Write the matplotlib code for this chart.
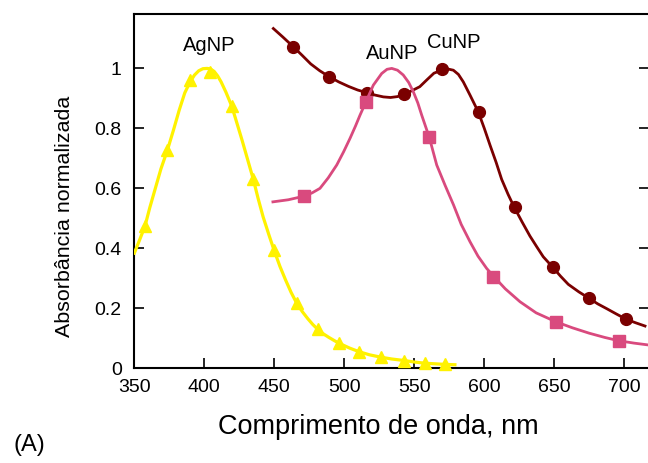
import matplotlib
matplotlib.use("Agg")
import matplotlib.pyplot as plt

plt.rcParams['font.family'] = ['Liberation Sans', 'DejaVu Sans']

# AgNP (yellow, triangles)
ag_marker_x = [357.6, 373.6, 389.8, 404.1, 419.6, 435.0, 449.8, 466.0, 481.0, 496.5, 510.8, 526.2, 542.8, 557.5, 572.0]
ag_marker_y = [0.474, 0.727, 0.961, 0.989, 0.874, 0.630, 0.394, 0.217, 0.130, 0.083, 0.055, 0.037, 0.026, 0.017, 0.013]
ag_line_x = [350.0, 353.5, 357.6, 361.0, 365.0, 369.0, 373.6, 378.0, 382.0, 386.0, 389.8, 393.0, 396.0, 399.0, 402.0,
             404.5, 407.0, 409.5, 412.0, 415.5, 419.6, 423.0, 427.0, 431.0, 435.0, 438.5, 442.0, 446.0, 449.8,
             454.0, 458.0, 462.0, 466.0, 470.0, 474.0, 477.5, 481.0, 485.0, 489.0, 493.0, 496.5, 504.0, 510.8,
             518.0, 526.2, 534.0, 542.8, 550.0, 557.5, 565.0, 572.0, 579.0]
ag_line_y = [0.384, 0.425, 0.474, 0.535, 0.600, 0.665, 0.727, 0.795, 0.860, 0.918, 0.955, 0.978, 0.992, 0.999, 1.000,
             0.998, 0.990, 0.975, 0.955, 0.920, 0.874, 0.822, 0.760, 0.695, 0.630, 0.565, 0.505, 0.447, 0.394,
             0.340, 0.295, 0.253, 0.217, 0.189, 0.165, 0.146, 0.130, 0.115, 0.103, 0.092, 0.083, 0.067, 0.055,
             0.045, 0.037, 0.031, 0.026, 0.021, 0.017, 0.015, 0.013, 0.012]

# AuNP (pink, squares)
au_marker_x = [471.3, 515.5, 560.7, 606.4, 651.2, 696.0]
au_marker_y = [0.574, 0.889, 0.770, 0.305, 0.155, 0.092]
au_line_x = [449.0, 460.0, 471.3, 477.0, 482.6, 488.5, 494.6, 499.5, 504.1, 508.0, 511.2, 515.5, 520.7, 526.7, 530.5,
             533.9, 538.0, 542.1, 546.0, 549.3, 552.5, 555.3, 560.7, 566.0, 572.0, 578.0, 583.5, 589.8, 595.5,
             601.7, 607.0, 615.0, 625.5, 637.0, 651.2, 663.0, 675.0, 686.0, 696.0, 707.0, 717.0]
au_line_y = [0.555, 0.562, 0.574, 0.585, 0.600, 0.635, 0.678, 0.722, 0.767, 0.808, 0.844, 0.889, 0.944, 0.983, 0.997,
             1.000, 0.994, 0.978, 0.953, 0.922, 0.885, 0.844, 0.770, 0.678, 0.610, 0.545, 0.480, 0.422, 0.374,
             0.333, 0.305, 0.265, 0.222, 0.185, 0.155, 0.135, 0.117, 0.103, 0.092, 0.084, 0.078]

# CuNP (dark red, circles)
cu_marker_x = [463.6, 489.3, 516.0, 542.6, 569.6, 595.9, 622.0, 648.8, 675.0, 701.2]
cu_marker_y = [1.072, 0.972, 0.919, 0.914, 0.997, 0.855, 0.537, 0.337, 0.233, 0.164]
cu_line_x = [449.3, 456.0, 463.6, 470.0, 476.0, 482.5, 489.3, 496.0, 503.0, 509.5, 516.0, 522.0, 527.9, 533.0, 538.0,
             542.6, 548.0, 553.9, 559.0, 564.0, 569.6, 574.0, 577.9, 581.5, 585.0, 589.8, 595.7, 600.0, 604.1,
             608.5, 612.4, 617.0, 621.4, 627.0, 632.6, 637.5, 642.1, 648.9, 654.5, 660.0, 667.5, 675.0, 681.0,
             687.4, 694.0, 701.2, 708.0, 714.8]
cu_line_y = [1.133, 1.105, 1.072, 1.043, 1.015, 0.992, 0.972, 0.955, 0.940, 0.928, 0.919, 0.911, 0.905, 0.903, 0.906,
             0.914, 0.925, 0.939, 0.962, 0.984, 0.994, 0.998, 0.994, 0.980, 0.955, 0.911, 0.855, 0.800, 0.744,
             0.686, 0.630, 0.580, 0.537, 0.488, 0.441, 0.405, 0.372, 0.337, 0.307, 0.280, 0.255, 0.233, 0.215,
             0.199, 0.182, 0.164, 0.152, 0.141]

x_ticks = [350, 400, 450, 500, 550, 600, 650, 700]
y_ticks = [0, 0.2, 0.4, 0.6, 0.8, 1.0]
y_tick_labels = ['0', '0.2', '0.4', '0.6', '0.8', '1']

yellow = '#FFF200'
pink = '#D94A7E'
darkred = '#7A0000'

fig = plt.figure(figsize=(6.48, 4.63), dpi=100)
ax = fig.add_axes([0.2073, 0.2045, 0.795, 0.7663])

ax.plot(cu_line_x, cu_line_y, color=darkred, lw=2.0, zorder=2)
ax.plot(cu_marker_x, cu_marker_y, 'o', color=darkred, ms=8.5, zorder=3)
ax.plot(au_line_x, au_line_y, color=pink, lw=2.0, zorder=4)
ax.plot(au_marker_x, au_marker_y, 's', color=pink, ms=8.5, zorder=5)
ax.plot(ag_line_x, ag_line_y, color=yellow, lw=2.3, zorder=6)
ax.plot(ag_marker_x, ag_marker_y, '^', color=yellow, ms=9, zorder=7, clip_on=False)

ax.text(403.4, 1.078, 'AgNP', fontsize=14.5, ha='center', va='center')
ax.text(533.9, 1.05, 'AuNP', fontsize=14.5, ha='center', va='center')
ax.text(577.9, 1.085, 'CuNP', fontsize=14.5, ha='center', va='center')

ax.set_xlim(350, 718)
ax.set_ylim(0, 1.183)
ax.set_xticks(x_ticks)
ax.set_yticks(y_ticks)
ax.set_yticklabels(y_tick_labels)

for s in ax.spines.values():
    s.set_linewidth(1.5)
ax.tick_params(direction='in', length=7, width=1.2, labelsize=14)
ax.tick_params(axis='y', right=True, pad=9)
ax.tick_params(axis='x', pad=8)

fig.text(65 / 648, 1 - 216 / 463, 'Absorbância normalizada', rotation=90,
         fontsize=15.4, ha='center', va='center')
fig.text(378.5 / 648, 1 - 426.7 / 463, 'Comprimento de onda, nm', fontsize=19.5,
         ha='center', va='center')
fig.text(29 / 648, 1 - 445 / 463, '(A)', fontsize=17, ha='center', va='center')

fig.savefig('out.png', dpi=100)
